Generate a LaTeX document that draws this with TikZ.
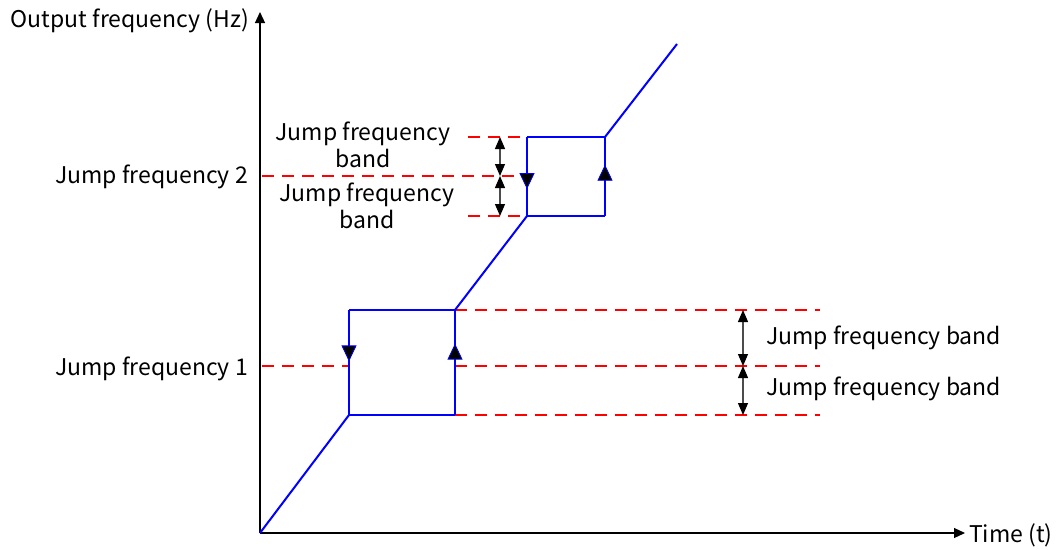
\documentclass[tikz,border=0pt]{standalone}
\usepackage{fontspec}
\setmainfont{Noto Sans CJK SC}
\usetikzlibrary{arrows.meta,decorations.markings}
\begin{document}
\begin{tikzpicture}[x=1pt,y=-1pt,
  lbl/.style={font=\fontsize{23}{27}\selectfont, inner sep=0pt},
  axis/.style={line width=1.2pt, -{Triangle[width=10pt,length=11pt]}},
  curve/.style={blue, line width=2pt},
  jband/.style={red, line width=1.2pt, dash pattern=on 12pt off 8pt},
  dimarrow/.style={line width=1.2pt, black!70, {Triangle[width=10pt,length=12pt,fill=black,color=black]}-{Triangle[width=10pt,length=12pt,fill=black,color=black]}},
  flowmark/.style={postaction={decorate}, decoration={markings, mark=at position #1 with {\arrow{Triangle[width=15pt,length=16pt,fill=black,color=blue,line width=0.8pt]}}}}
]
\useasboundingbox (0,0) rectangle (1060,549);
% coordinates
\coordinate (O) at (260,533);
\coordinate (Ytop) at (260,12);
\coordinate (Xend) at (965,533);
\coordinate (A) at (349,415);
\coordinate (B) at (349,310);
\coordinate (C) at (455,310);
\coordinate (D) at (455,415);
\coordinate (E) at (527,216);
\coordinate (F) at (527,137);
\coordinate (G) at (605,137);
\coordinate (H) at (605,216);
\coordinate (I) at (677,44);
% dashed band lines
\coordinate (j1s) at (262,366);
\coordinate (j1e) at (349,366);
\coordinate (j2s) at (262,176);
\coordinate (j2e) at (527,176);
\coordinate (r1s) at (455,310); \coordinate (r1e) at (820,310);
\coordinate (r2s) at (455,366); \coordinate (r2e) at (820,366);
\coordinate (r3s) at (455,415); \coordinate (r3e) at (820,415);
\coordinate (b1s) at (468,137);
\coordinate (b3s) at (468,216);
\draw[jband] (j1s) -- (j1e);
\draw[jband] (j2s) -- (j2e);
\draw[jband] (r1s) -- (r1e);
\draw[jband] (r2s) -- (r2e);
\draw[jband] (r3s) -- (r3e);
\draw[jband] (b1s) -- (F);
\draw[jband] (b3s) -- (E);
% dimension arrows
\coordinate (d1) at (743,310); \coordinate (d2) at (743,366); \coordinate (d3) at (743,415);
\draw[dimarrow] (d1) -- (d2);
\draw[dimarrow] (d2) -- (d3);
\coordinate (e1) at (500,137); \coordinate (e2) at (500,176); \coordinate (e3) at (500,216);
\draw[dimarrow] (e1) -- (e2);
\draw[dimarrow] (e2) -- (e3);
% axes
\draw[axis] (O) -- (Ytop);
\draw[axis] (O) -- (Xend);
% curve
\draw[curve] (O) -- (A);
\draw[curve] (A) -- (D);
\draw[curve] (B) -- (C);
\draw[curve] (C) -- (E);
\draw[curve] (E) -- (H);
\draw[curve] (F) -- (G);
\draw[curve] (G) -- (I);
\draw[curve, flowmark=0.49] (B) -- (A);
\draw[curve, flowmark=0.68] (D) -- (C);
\draw[curve, flowmark=0.66] (F) -- (E);
\draw[curve, flowmark=0.65] (H) -- (G);
% labels
\node[lbl, anchor=east] (ylab) at (249,21) {Output frequency (Hz)};
\node[lbl, anchor=west] (xlab) at (969,535) {Time (t)};
\node[lbl, anchor=east] (jf2) at (248,177) {Jump frequency 2};
\node[lbl, anchor=east] (jf1) at (248,369) {Jump frequency 1};
\node[lbl, align=center] (bandA) at (363,145) {Jump frequency\\band};
\node[lbl, align=center] (bandB) at (367,206) {Jump frequency\\band};
\node[lbl, anchor=west] (bandC) at (766,338) {Jump frequency band};
\node[lbl, anchor=west] (bandD) at (766,389) {Jump frequency band};
\end{tikzpicture}
\end{document}
